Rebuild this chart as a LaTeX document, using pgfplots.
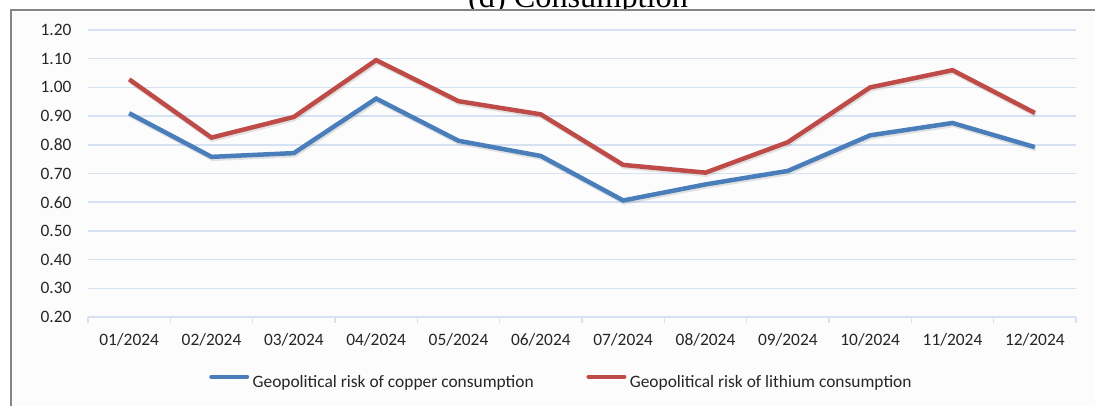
\documentclass[border=0pt]{standalone}
\usepackage{fontspec}
\setmainfont{Carlito}
\newfontfamily\titlefont{Liberation Serif}
\usepackage{pgfplots}
\pgfplotsset{compat=1.18}
\definecolor{gridblue}{HTML}{D6E2F3}
\definecolor{cublue}{HTML}{4A7EBB}
\definecolor{lired}{HTML}{BE4B48}
\definecolor{framegray}{HTML}{858585}
\definecolor{bgcol}{HTML}{FCFCFC}
\newcommand{\lbl}{\fontsize{17.4}{20}\selectfont}
\begin{document}
\begin{tikzpicture}[x=1pt,y=1pt]
\clip (0,0) rectangle (1095,405);
\node[anchor=base, inner sep=0pt, font=\titlefont\fontsize{32.3}{36}\selectfont] at (578,397) {(d) Consumption};
\fill[bgcol] (11,-5) rectangle (1100,395);
\draw[framegray, line width=2pt] (11,-5) -- (11,395) -- (1100,395);
\begin{axis}[
  at={(88pt,88pt)}, anchor=south west,
  scale only axis, width=988pt, height=287pt,
  xmin=-0.5, xmax=11.5, ymin=0.2, ymax=1.2,
  clip=false,
  axis x line*=bottom, axis y line*=left,
  x axis line style={gridblue, line width=1.5pt},
  y axis line style={draw=none},
  ymajorgrids, grid style={gridblue, line width=1.5pt},
  major tick length=0pt,
  ytick={0.2,0.3,0.4,0.5,0.6,0.7,0.8,0.9,1.0,1.1,1.2},
  yticklabels={0.20,0.30,0.40,0.50,0.60,0.70,0.80,0.90,1.00,1.10,1.20},
  yticklabel style={font=\lbl, anchor=east, inner sep=0pt, xshift=-16.3pt, text=black!85},
  xtick={0,1,2,3,4,5,6,7,8,9,10,11},
  xticklabels={01/2024,02/2024,03/2024,04/2024,05/2024,06/2024,07/2024,08/2024,09/2024,10/2024,11/2024,12/2024},
  xticklabel style={font=\lbl, anchor=base, inner sep=0pt, yshift=-28pt, text=black!85},
  extra x ticks={-0.5,0.5,1.5,2.5,3.5,4.5,5.5,6.5,7.5,8.5,9.5,10.5,11.5},
  extra x tick labels={},
  extra x tick style={grid=none, tick align=outside, major tick length=6pt, tick style={gridblue, line width=1.5pt}},
  legend columns=2,
  legend style={at={(0.1225,-0.2254)}, anchor=west, draw=none, fill=none, inner sep=0pt, font=\lbl, text=black!85,
    nodes={inner sep=0pt},
    /tikz/every odd column/.append style={column sep=3.4pt},
    /tikz/every even column/.append style={column sep=52.6pt}},
  legend image code/.code={\draw[#1, line width=4.5pt, line cap=round] (2.25pt,5.3pt) -- (37.75pt,5.3pt);},
]
\addplot[forget plot, black, opacity=0.10, line width=4.5pt, xshift=1pt, yshift=-2pt] coordinates {
(0,0.910) (1,0.758) (2,0.771) (3,0.961) (4,0.814) (5,0.761) (6,0.606) (7,0.662) (8,0.709) (9,0.833) (10,0.876) (11,0.792)};
\addplot[forget plot, black, opacity=0.10, line width=4.5pt, xshift=1pt, yshift=-2pt] coordinates {
(0,1.028) (1,0.825) (2,0.897) (3,1.095) (4,0.952) (5,0.906) (6,0.730) (7,0.703) (8,0.809) (9,1.000) (10,1.060) (11,0.911)};
\addplot[cublue, line width=4.5pt] coordinates {
(0,0.910) (1,0.758) (2,0.771) (3,0.961) (4,0.814) (5,0.761) (6,0.606) (7,0.662) (8,0.709) (9,0.833) (10,0.876) (11,0.792)};
\addlegendentry{Geopolitical risk of copper consumption}
\addplot[lired, line width=4.5pt] coordinates {
(0,1.028) (1,0.825) (2,0.897) (3,1.095) (4,0.952) (5,0.906) (6,0.730) (7,0.703) (8,0.809) (9,1.000) (10,1.060) (11,0.911)};
\addlegendentry{Geopolitical risk of lithium consumption}
\end{axis}
\end{tikzpicture}
\end{document}
